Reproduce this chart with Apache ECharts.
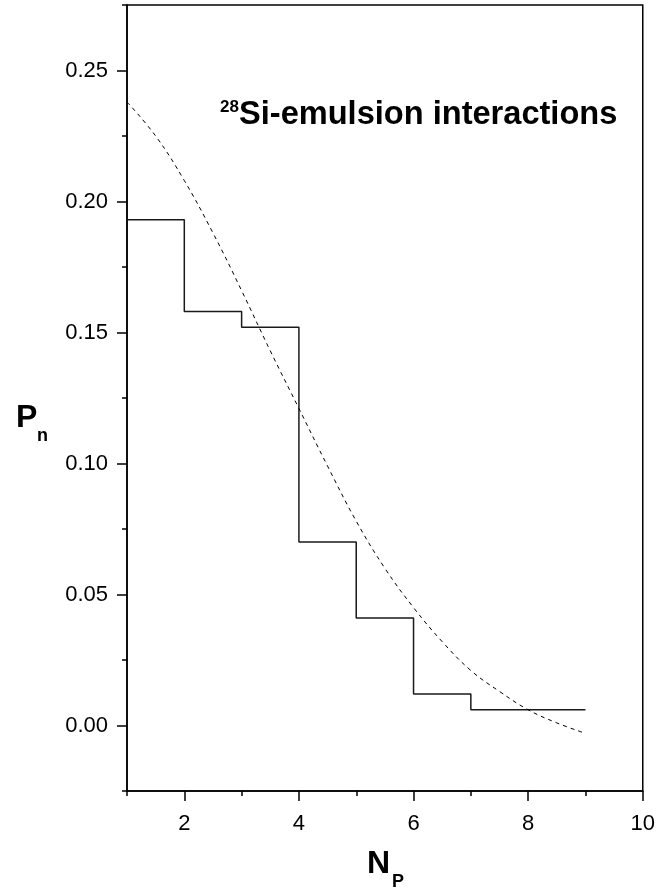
<!DOCTYPE html>
<html>
<head>
<meta charset="utf-8">
<script src="https://cdn.jsdelivr.net/npm/echarts@6/dist/echarts.min.js"></script>
<style>
html,body{margin:0;padding:0;background:#fff;}
#chart{width:658px;height:893px;}
</style>
</head>
<body>
<div id="chart"></div>
<script>
// ---- data ----
const stepEdges = [1, 2, 3, 4, 5, 6, 7, 9];
const stepValues = [0.193, 0.158, 0.152, 0.070, 0.041, 0.012, 0.006];
const fitX = [1, 1.5, 2, 2.5, 3, 3.5, 4, 4.5, 5, 5.5, 6, 6.5, 7, 7.5, 8, 8.5, 9];
const fitY = [0.238, 0.225, 0.208, 0.188, 0.166, 0.143, 0.121, 0.099, 0.078, 0.060, 0.045, 0.032, 0.021, 0.013, 0.006, 0.001, -0.003];
const xMajorTicks = [2, 4, 6, 8, 10];
const xMinorTicks = [1, 3, 5, 7, 9];
const yMajorTicks = [0, 0.05, 0.10, 0.15, 0.20, 0.25];
const yMinorTicks = [-0.025, 0.025, 0.075, 0.125, 0.175, 0.225, 0.275];
const xRange = [1, 10];
const yRange = [-0.025, 0.275];

// build step series data
const stepData = stepValues.map((v, i) => [stepEdges[i], v]);
stepData.push([stepEdges[stepEdges.length - 1], stepValues[stepValues.length - 1]]);
const fitData = fitX.map((x, i) => [x, fitY[i]]);

const FONT = 'Liberation Sans, Arial, sans-serif';
const gridRect = {left: 127, top: 5, width: 516, height: 786};

const chart = echarts.init(document.getElementById('chart'), null, {renderer: 'canvas'});
chart.setOption({
  animation: false,
  backgroundColor: '#fff',
  grid: [
    Object.assign({show: true, borderColor: '#000', borderWidth: 1.5, backgroundColor: 'transparent', containLabel: false}, gridRect),
    Object.assign({show: false, containLabel: false}, gridRect)
  ],
  xAxis: [
    {
      type: 'value', gridIndex: 0, position: 'bottom', min: xRange[0], max: xRange[1], interval: 1,
      axisLine: {show: true, onZero: false, lineStyle: {color: '#000', width: 1.5}},
      axisTick: {show: true, inside: false, length: 10, customValues: xMajorTicks, lineStyle: {color: '#000', width: 1.5}},
      axisLabel: {show: true, customValues: xMajorTicks, margin: 22, color: '#000', fontSize: 22, fontFamily: FONT},
      splitLine: {show: false}
    },
    {
      type: 'value', gridIndex: 1, position: 'bottom', min: xRange[0], max: xRange[1], interval: 1,
      axisLine: {show: false, onZero: false},
      axisTick: {show: true, inside: false, length: 5, customValues: xMinorTicks, lineStyle: {color: '#000', width: 1.5}},
      axisLabel: {show: false},
      splitLine: {show: false}
    }
  ],
  yAxis: [
    {
      type: 'value', gridIndex: 0, position: 'left', min: yRange[0], max: yRange[1], interval: 0.025,
      axisLine: {show: true, onZero: false, lineStyle: {color: '#000', width: 1.5}},
      axisTick: {show: true, inside: false, length: 10, customValues: yMajorTicks, lineStyle: {color: '#000', width: 1.5}},
      axisLabel: {show: true, customValues: yMajorTicks, margin: 19, color: '#000', fontSize: 22, fontFamily: FONT,
        formatter: v => Number(v).toFixed(2)},
      splitLine: {show: false}
    },
    {
      type: 'value', gridIndex: 1, position: 'left', min: yRange[0], max: yRange[1], interval: 0.025,
      axisLine: {show: false, onZero: false},
      axisTick: {show: true, inside: false, length: 5, customValues: yMinorTicks, lineStyle: {color: '#000', width: 1.5}},
      axisLabel: {show: false},
      splitLine: {show: false}
    }
  ],
  series: [
    {
      type: 'line', xAxisIndex: 0, yAxisIndex: 0, data: stepData, step: 'end',
      showSymbol: false, symbol: 'none',
      lineStyle: {color: '#1a1a1a', width: 1.5}
    },
    {
      type: 'line', xAxisIndex: 0, yAxisIndex: 0, data: fitData, smooth: 0.4,
      showSymbol: false, symbol: 'none',
      lineStyle: {color: '#000', width: 1, type: [4, 4]}
    }
  ],
  graphic: [
    {type: 'text', x: 220, y: 107, style: {text: '28', font: 'bold 17px ' + FONT, fill: '#000', verticalAlign: 'middle', align: 'left'}},
    {type: 'text', x: 239, y: 115, style: {text: 'Si-emulsion interactions', font: 'bold 32.6px ' + FONT, fill: '#000', verticalAlign: 'middle', align: 'left'}},
    {type: 'text', x: 16, y: 418, style: {text: 'P', font: 'bold 32px ' + FONT, fill: '#000', verticalAlign: 'middle', align: 'left'}},
    {type: 'text', x: 37, y: 436, style: {text: 'n', font: 'bold 18px ' + FONT, fill: '#000', verticalAlign: 'middle', align: 'left'}},
    {type: 'text', x: 367, y: 864, style: {text: 'N', font: 'bold 32px ' + FONT, fill: '#000', verticalAlign: 'middle', align: 'left'}},
    {type: 'text', x: 392, y: 882, style: {text: 'P', font: 'bold 18px ' + FONT, fill: '#000', verticalAlign: 'middle', align: 'left'}}
  ]
});
</script>
</body>
</html>
